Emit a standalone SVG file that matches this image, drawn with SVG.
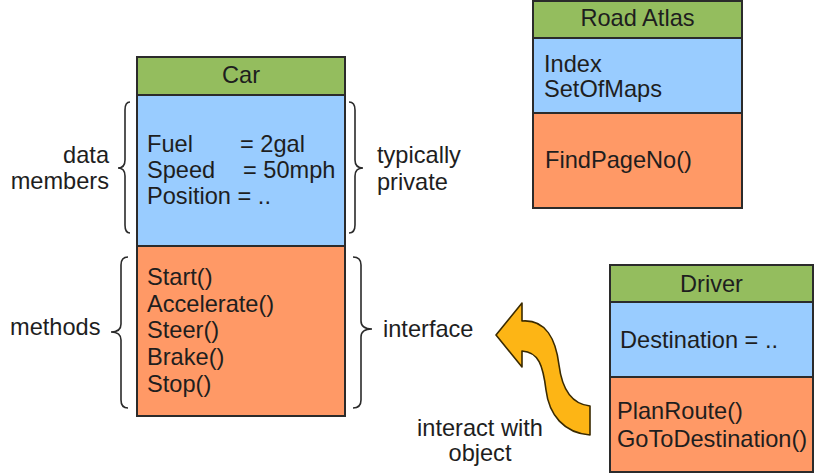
<svg xmlns="http://www.w3.org/2000/svg" width="819" height="474" viewBox="0 0 819 474">
<style>
.hd{fill:#94bd5e;stroke:#2b2b2b;stroke-width:2}
.bl{fill:#99ccff;stroke:#2b2b2b;stroke-width:2}
.or{fill:#ff9966;stroke:#2b2b2b;stroke-width:2}
text{font-family:"Liberation Sans",Arial,sans-serif;font-size:23.6px;fill:#1e1e1e}
.c{text-anchor:middle}
.e{text-anchor:end}
.br{fill:none;stroke:#2b2b2b;stroke-width:1.6}
</style>
<rect width="819" height="474" fill="#ffffff"/>
<g id="car">
<rect class="hd" x="137" y="57" width="208" height="38"/>
<rect class="bl" x="137" y="95" width="208" height="151"/>
<rect class="or" x="137" y="246" width="208" height="170"/>
<text class="c" x="241" y="83">Car</text>
<text x="147" y="152">Fuel<tspan x="240">= 2gal</tspan></text>
<text x="147" y="178">Speed<tspan x="243">= 50mph</tspan></text>
<text x="147" y="204">Position = ..</text>
<text x="147" y="285">Start()</text>
<text x="147" y="311.7">Accelerate()</text>
<text x="147" y="338.4">Steer()</text>
<text x="147" y="365">Brake()</text>
<text x="147" y="391.8">Stop()</text>
</g>
<g id="road-atlas">
<rect class="hd" x="533" y="1" width="209" height="37"/>
<rect class="bl" x="533" y="38" width="209" height="75"/>
<rect class="or" x="533" y="113" width="209" height="95"/>
<text class="c" x="637.5" y="26">Road Atlas</text>
<text x="544" y="72">Index</text>
<text x="544" y="97">SetOfMaps</text>
<text x="545" y="168">FindPageNo()</text>
</g>
<g id="driver">
<rect class="hd" x="610" y="265" width="203" height="37"/>
<rect class="bl" x="610" y="302" width="203" height="75"/>
<rect class="or" x="610" y="377" width="203" height="95"/>
<text class="c" x="711.5" y="292">Driver</text>
<text x="620" y="348">Destination = ..</text>
<text x="617" y="419">PlanRoute()</text>
<text x="617" y="446.5">GoToDestination()</text>
</g>
<g id="annotations">
<path class="br" d="M130 102 Q125 102 125 110 L125 160 Q125 168 118 168 Q125 168 125 176 L125 225 Q125 233 130 233"/>
<path class="br" d="M128 257 Q121 257 121 265 L121 324 Q121 332 111 332 Q121 332 121 340 L121 400 Q121 408 128 408"/>
<path class="br" d="M349 102 Q355 102 355 110 L355 160 Q355 168 363 168 Q355 168 355 176 L355 225 Q355 233 349 233"/>
<path class="br" d="M353 257 Q361 257 361 265 L361 321 Q361 329 372 329 Q361 329 361 337 L361 400 Q361 408 353 408"/>
<text class="e" x="109" y="163">data</text>
<text class="e" x="109" y="189">members</text>
<text x="377" y="163">typically</text>
<text x="377" y="190">private</text>
<text x="10" y="335">methods</text>
<text x="383" y="337">interface</text>
<text class="c" x="480" y="436">interact with</text>
<text class="c" x="480" y="461">object</text>
</g>
<g id="connectors">
<path d="M496 335 L522 303 L522 321 C546 319 556 340 559 365 C562 389 571 404 590 406 L590 435 C564 433 549 415 546 390 C543 366 539 352 522 351 L522 367 Z" fill="#fdb515" stroke="#3a2a00" stroke-width="1.6" stroke-linejoin="round"/>
</g>
</svg>
